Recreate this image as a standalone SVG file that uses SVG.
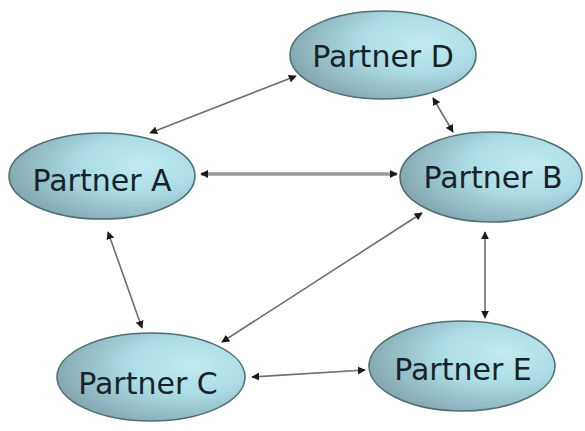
<svg xmlns="http://www.w3.org/2000/svg" width="585" height="431" viewBox="0 0 585 431">
<style>
.node{fill:url(#g);stroke:#4f6f75;stroke-width:1.6}
.lbl{font-family:"DejaVu Sans",Verdana,sans-serif;font-size:30px;fill:#17232a;text-anchor:middle}
.c{stroke:#6e6e6e;stroke-width:1.6;fill:none;marker-start:url(#ah);marker-end:url(#ah)}
.thick{stroke:#9a9a9a;stroke-width:3.5}
</style>
<defs>
<radialGradient id="g" cx="0.68" cy="0.4" r="0.75" fx="0.72" fy="0.35">
<stop offset="0" stop-color="#c2ecf2"/>
<stop offset="0.45" stop-color="#aadbe3"/>
<stop offset="1" stop-color="#7fa1a8"/>
</radialGradient>
<marker id="ah" viewBox="0 0 10 10" refX="9" refY="5" markerWidth="8" markerHeight="8" markerUnits="userSpaceOnUse" orient="auto-start-reverse">
<path d="M0,0 L10,5 L0,10 z" fill="#1a1a1a"/>
</marker>
</defs>
<rect width="585" height="431" fill="#ffffff"/>
<g id="connectors">
<line class="c" x1="150" y1="133" x2="296" y2="76"/>
<line class="c" x1="433" y1="98" x2="453" y2="132"/>
<line class="c thick" x1="201" y1="174" x2="397" y2="174"/>
<line class="c" x1="108" y1="232" x2="142" y2="328"/>
<line class="c" x1="422" y1="213" x2="222" y2="342"/>
<line class="c" x1="252" y1="377" x2="365" y2="370"/>
<line class="c" x1="485" y1="232" x2="485" y2="318"/>
</g>
<g id="partnerD">
<ellipse class="node" cx="383" cy="55" rx="93" ry="44"/>
<text class="lbl" x="383" y="67">Partner D</text>
</g>
<g id="partnerA">
<ellipse class="node" cx="102" cy="176" rx="93" ry="43"/>
<text class="lbl" x="102" y="191">Partner A</text>
</g>
<g id="partnerB">
<ellipse class="node" cx="491" cy="177" rx="91" ry="45"/>
<text class="lbl" x="493" y="188">Partner B</text>
</g>
<g id="partnerC">
<ellipse class="node" cx="151" cy="377" rx="94" ry="44"/>
<text class="lbl" x="148" y="394">Partner C</text>
</g>
<g id="partnerE">
<ellipse class="node" cx="462" cy="366" rx="93" ry="45"/>
<text class="lbl" x="463" y="380">Partner E</text>
</g>
</svg>
